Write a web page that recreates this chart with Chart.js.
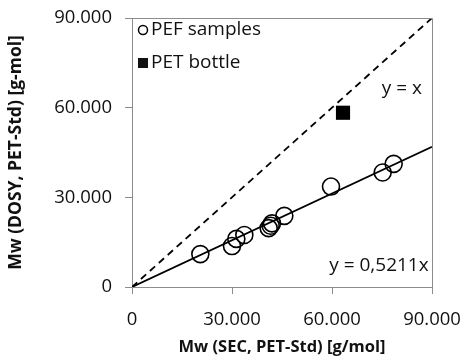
<!DOCTYPE html>
<html>
<head>
<meta charset="utf-8">
<script src="https://cdn.jsdelivr.net/npm/chart.js@4"></script>
<style>
  html, body { margin: 0; padding: 0; background: #fff; }
  #wrap { width: 466px; height: 359px; }
</style>
</head>
<body>
<div id="wrap"><canvas id="mwChart" width="466" height="359"></canvas></div>
<script>
// values
const pefX = [20500, 30000, 31300, 33700, 41000, 41600, 42000, 45700, 59700, 75200, 78500];
const pefY = [11000, 13700, 16100, 17400, 19700, 20500, 21300, 23800, 33600, 38300, 41200];
const petX = [63300];
const petY = [58300];
const lineX = [0, 90000];
const slope = 0.5211;
const tickValues = [0, 30000, 60000, 90000];
const tickLabels = ["0", "30.000", "60.000", "90.000"];

const FONT = "'Open Sans', sans-serif";
const AXIS_GREY = "#8c8c8c";

function pts(xs, ys) {
  return xs.map((x, i) => ({ x: x, y: ys[i] }));
}

// frame round the plot + legend + equation labels
const extras = {
  id: "extras",
  afterDraw(chart) {
    const { ctx, chartArea: a, scales } = chart;
    ctx.save();
    ctx.strokeStyle = AXIS_GREY;
    ctx.lineWidth = 1;
    ctx.beginPath();
    ctx.moveTo(a.left, a.top + 0.5);
    ctx.lineTo(a.right + 0.5, a.top + 0.5);
    ctx.lineTo(a.right + 0.5, a.bottom);
    ctx.stroke();

    ctx.fillStyle = "#111";
    ctx.font = "19px " + FONT;
    ctx.textBaseline = "middle";
    ctx.textAlign = "left";

    // legend
    const lx = a.left + 11;
    ctx.strokeStyle = "#000";
    ctx.lineWidth = 1.5;
    ctx.beginPath();
    ctx.arc(lx, a.top + 12, 4.5, 0, Math.PI * 2);
    ctx.stroke();
    ctx.fillText(chart.data.datasets[0].label, lx + 8, a.top + 12);
    ctx.fillRect(lx - 5, a.top + 45 - 5, 10, 10);
    ctx.fillText(chart.data.datasets[1].label, lx + 8, a.top + 45);

    // equations
    ctx.textAlign = "right";
    ctx.fillText("y = x", scales.x.getPixelForValue(87000), scales.y.getPixelForValue(66300));
    ctx.fillText("y = 0,5211x", scales.x.getPixelForValue(89000), scales.y.getPixelForValue(7000));
    ctx.restore();
  }
};

function axis(title, isY) {
  return {
    type: "linear",
    min: 0,
    max: 90000,
    afterBuildTicks(scale) {
      scale.ticks = tickValues.map(v => ({ value: v }));
    },
    afterFit(scale) {
      // fixed box sizes, no extra room for the end labels
      if (isY) scale.width = 126;
      else scale.height = 70;
      scale.paddingLeft = scale.paddingRight = 0;
      scale.paddingTop = scale.paddingBottom = 0;
    },
    ticks: {
      color: "#111",
      font: { family: FONT, size: 18.5 },
      padding: isY ? 13 : 15,
      maxRotation: 0,
      callback: (v) => tickLabels[tickValues.indexOf(v)]
    },
    grid: {
      drawOnChartArea: false,
      drawTicks: true,
      tickLength: 7,
      color: AXIS_GREY
    },
    border: { display: true, color: AXIS_GREY, width: 1 },
    title: {
      display: true,
      text: title,
      color: "#111",
      font: { family: FONT, size: isY ? 17.5 : 16.5, weight: "bold" },
      padding: { top: 0, bottom: 0 }
    }
  };
}

new Chart(document.getElementById("mwChart").getContext("2d"), {
  type: "scatter",
  data: {
    datasets: [
      {
        label: "PEF samples",
        data: pts(pefX, pefY),
        pointStyle: "circle",
        pointRadius: 8.5,
        borderColor: "#000",
        backgroundColor: "rgba(0,0,0,0)",
        borderWidth: 1.6
      },
      {
        label: "PET bottle",
        data: pts(petX, petY),
        pointStyle: "rect",
        pointRadius: 10,
        borderColor: "#000",
        backgroundColor: "#000",
        borderWidth: 0
      },
      {
        label: "y = x",
        data: pts(lineX, lineX),
        showLine: true,
        pointRadius: 0,
        borderColor: "#000",
        borderWidth: 1.8,
        borderDash: [7, 5]
      },
      {
        label: "trend",
        data: pts(lineX, lineX.map(x => x * slope)),
        showLine: true,
        pointRadius: 0,
        borderColor: "#000",
        borderWidth: 1.8
      }
    ]
  },
  options: {
    responsive: false,
    animation: false,
    layout: { padding: { left: 6, right: 34, top: 18, bottom: 2 } },
    plugins: {
      legend: { display: false },
      tooltip: { enabled: false }
    },
    scales: {
      x: axis("Mw (SEC, PET-Std) [g/mol]", false),
      y: axis("Mw (DOSY, PET-Std) [g-mol]", true)
    }
  },
  plugins: [extras]
});
</script>
</body>
</html>
